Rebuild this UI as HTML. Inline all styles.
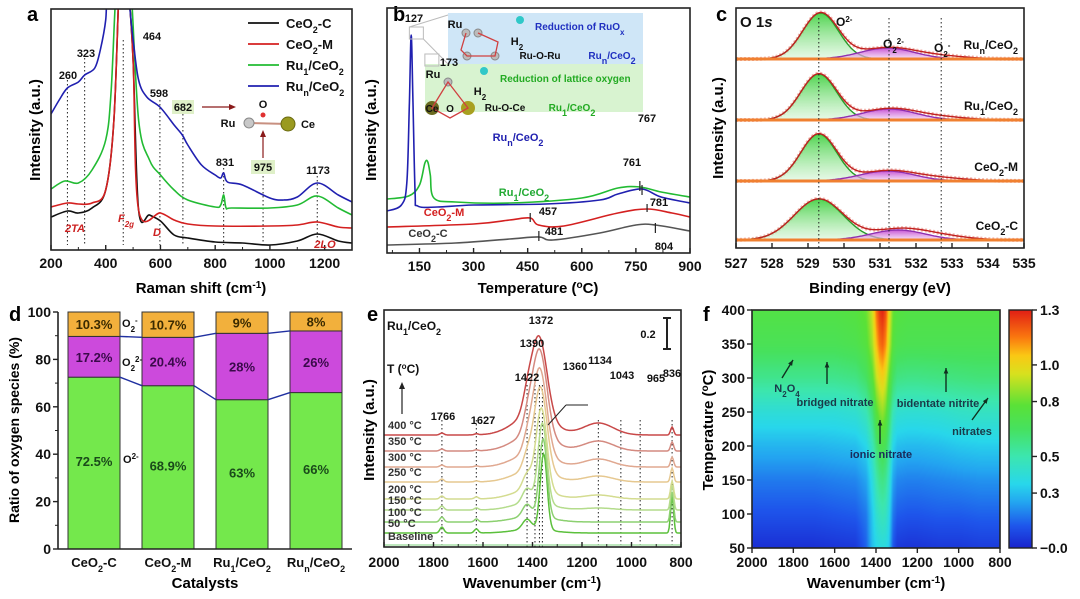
<!DOCTYPE html>
<html><head><meta charset="utf-8"><title>Ru/CeO2 characterization figure</title>
<style>
html,body{margin:0;padding:0;background:#fff;}
#wrap{position:relative;width:1080px;height:599px;overflow:hidden;font-family:"Liberation Sans",Arial,sans-serif;}
svg{position:absolute;left:0;top:0;}
#heat{position:absolute;left:752px;top:310px;}
text{font-family:"Liberation Sans",Arial,sans-serif;font-weight:bold;}
</style></head>
<body>
<div id="wrap">
<canvas id="heat" width="248" height="238"></canvas>
<svg id="fig" width="1080" height="599" viewBox="0 0 1080 599">
<defs>
<clipPath id="clipA"><rect x="51" y="9" width="301" height="241"/></clipPath>
<clipPath id="clipB"><rect x="387" y="8" width="303" height="245"/></clipPath>
<clipPath id="clipC"><rect x="736" y="8" width="288" height="240"/></clipPath>
<clipPath id="clipE"><rect x="384" y="310" width="297" height="237"/></clipPath>
<linearGradient id="gfill" x1="0" y1="0" x2="0" y2="1"><stop offset="0" stop-color="#3ccf3c" stop-opacity="0.9"/><stop offset="1" stop-color="#d8f5d8" stop-opacity="0.6"/></linearGradient>
<linearGradient id="pfill" x1="0" y1="0" x2="0" y2="1"><stop offset="0" stop-color="#c040d0" stop-opacity="0.9"/><stop offset="1" stop-color="#f0c8f0" stop-opacity="0.6"/></linearGradient>
<linearGradient id="cbar" x1="0" y1="1" x2="0" y2="0"></linearGradient>
</defs>

<text x="27" y="21" font-size="20">a</text>
<text x="393" y="21" font-size="20">b</text>
<text x="716" y="21" font-size="20">c</text>
<text x="9" y="321" font-size="20">d</text>
<text x="367" y="321" font-size="20">e</text>
<text x="703" y="321" font-size="20">f</text>

<text transform="translate(40,130) rotate(-90)" text-anchor="middle" font-size="15">Intensity (a.u.)</text>
<text x="201" y="293" text-anchor="middle" font-size="15">Raman shift (cm<tspan dy="-5" font-size="10">-1</tspan><tspan dy="5">)</tspan></text>
<text transform="translate(376,130) rotate(-90)" text-anchor="middle" font-size="15">Intensity (a.u.)</text>
<text x="538" y="293" text-anchor="middle" font-size="15">Temperature (<tspan dy="-5" font-size="10">o</tspan><tspan dy="5">C)</tspan></text>
<text transform="translate(723,128) rotate(-90)" text-anchor="middle" font-size="15">Intensity (a.u.)</text>
<text x="880" y="293" text-anchor="middle" font-size="15">Binding energy (eV)</text>
<text transform="translate(19,430) rotate(-90)" text-anchor="middle" font-size="14">Ratio of oxygen species (%)</text>
<text x="205" y="588" text-anchor="middle" font-size="15">Catalysts</text>
<text transform="translate(374,430) rotate(-90)" text-anchor="middle" font-size="15">Intensity (a.u.)</text>
<text x="532" y="588" text-anchor="middle" font-size="15">Wavenumber (cm<tspan dy="-5" font-size="10">-1</tspan><tspan dy="5">)</tspan></text>
<text transform="translate(713,430) rotate(-90)" text-anchor="middle" font-size="15">Temperature (<tspan dy="-5" font-size="10">o</tspan><tspan dy="5">C)</tspan></text>
<text x="876" y="588" text-anchor="middle" font-size="15">Wavenumber (cm<tspan dy="-5" font-size="10">-1</tspan><tspan dy="5">)</tspan></text>
<text transform="translate(1025,430) rotate(-90)" text-anchor="middle" font-size="13" fill="#8fd6c0" font-weight="normal">Intensity (a.u.)</text>

<g id="gA"></g>
<g id="gB"></g>
<g id="gC"></g>
<g id="gD"></g>
<g id="gE"></g>
<g id="gF"></g>
</svg>
</div>
<script>
const ramanBlackX=[200,260,300,350,400,430,450,464,480,500,520,560,600,650,700,800,900,1000,1100,1173,1250,1300];
const ramanBlackY=[33,39,37,42,60,130,270,290,270,190,40,35,29,15,12,8,7,5,9,16,9,7];
const ramanRedX=[200,260,300,350,400,430,450,464,480,500,520,600,650,700,800,1000,1100,1173,1250,1300];
const ramanRedY=[43,47,46,47,60,130,270,290,270,190,40,37,30,26,24,24,25,28,23,22];
const ramanGreenX=[200,250,300,350,400,420,440,464,490,520,560,600,650,700,800,820,831,840,860,1000,1100,1173,1250,1300];
const ramanGreenY=[61,69,67,80,110,160,270,290,270,130,90,75,60,50,43,45,55,42,42,42,45,54,42,35];
const ramanBlueX=[200,230,260,300,323,360,380,400,410,464,500,520,550,598,650,680,700,750,800,820,831,845,900,1000,1050,1100,1173,1250,1300];
const ramanBlueY=[136,150,162,168,175,182,200,230,270,290,210,170,153,143,125,115,105,85,75,72,77,68,65,52,50,53,67,55,48];
const ramanTicks=[200,400,600,800,1000,1200];
const ramanPeaks=[260,323,464,598,682,831,975,1173];

const tprBlueX=[60,100,115,122,127,132,138,145,200,300,500,650,700,767,820,900];
const tprBlueY=[42,48,70,150,218,150,60,47,46,48,49,53,59,64,56,50];
const tprGreenX=[60,120,150,165,173,180,190,250,400,600,700,761,820,900];
const tprGreenY=[54,57,68,90,91,78,55,51,50,55,65,66,61,56];
const tprRedX=[60,300,400,457,480,550,700,781,850,900];
const tprRedY=[26,29,33,35,28,27,40,44,40,36];
const tprGrayX=[60,250,400,481,520,650,750,804,900];
const tprGrayY=[8,10,14,16,13,20,28,28,22];
const tprTicks=[150,300,450,600,750,900];

const xpsSamples=['Run/CeO2','Ru1/CeO2','CeO2-M','CeO2-C'];
const xpsBase=[187,126,65,6];
const xpsLatticeCenter=[529.35,529.3,529.3,529.3];
const xpsLatticeAmp=[46,46,47,41];
const xpsLatticeWidth=[0.5,0.5,0.5,0.68];
const xpsPeroxCenter=[531.2,531.25,531.2,531.5];
const xpsPeroxAmp=[11,11,10,10];
const xpsSuperAmp=[3,3,3,4];
const xpsTicks=[527,528,529,530,531,532,533,534,535];

const catalysts=['CeO2-C','CeO2-M','Ru1/CeO2','Run/CeO2'];
const ratioO2minus=[72.5,68.9,63,66];
const ratioPeroxide=[17.2,20.4,28,26];
const ratioSuperoxide=[10.3,10.7,9,8];
const ratioTicks=[0,20,40,60,80,100];

const eLabels=['Baseline','50 °C','100 °C','150 °C','200 °C','250 °C','300 °C','350 °C','400 °C'];
const eOffset=[2,14,25,37,48,65,80,96,112];
const eMainCenter=[1360,1355,1357,1360,1364,1368,1371,1372,1374];
const eMainAmp=[0,76,78,80,82,84,86,86,80];
const eMainWidth=[20,14,16,18,22,26,28,30,32];
const eShoulderAmp=[0,10,12,14,15,14,12,12,12];
const eBroadAmp=[0,4,6,8,10,12,14,17,20];
const e1134Amp=[0,0,0,2,4,6,8,10,12];
const e836Amp=[0,36,30,25,18,14,10,9,8];
const e1766Amp=[0,6,5,4,3,3,2,2,2];
const e1627Amp=[0,4,3,2,2,1,1,1,1];
const eTicks=[2000,1800,1600,1400,1200,1000,800];
const ePeaks=[1766,1627,1422,1390,1372,1360,1134,1043,965,836];

const fTemps=[50,100,150,200,250,300,350,400];
const fWaves=[2000,1900,1800,1700,1600,1500,1450,1420,1400,1385,1370,1355,1340,1320,1300,1250,1200,1100,1000,900,800];
const fRow50=[0.03,0.03,0.03,0.03,0.04,0.05,0.14,0.30,0.35,0.37,0.38,0.37,0.33,0.12,0.05,0.04,0.04,0.05,0.05,0.06,0.06];
const fRow100=[0.11,0.11,0.11,0.11,0.12,0.13,0.18,0.32,0.42,0.46,0.48,0.46,0.38,0.18,0.13,0.12,0.12,0.13,0.13,0.14,0.14];
const fRow150=[0.18,0.18,0.18,0.18,0.19,0.20,0.25,0.38,0.50,0.56,0.58,0.55,0.45,0.25,0.20,0.19,0.19,0.20,0.21,0.22,0.22];
const fRow200=[0.28,0.28,0.28,0.28,0.29,0.30,0.35,0.47,0.60,0.67,0.70,0.66,0.55,0.35,0.30,0.29,0.29,0.30,0.32,0.33,0.33];
const fRow250=[0.40,0.40,0.40,0.40,0.40,0.42,0.48,0.60,0.76,0.83,0.86,0.80,0.66,0.48,0.42,0.41,0.41,0.42,0.44,0.45,0.45];
const fRow300=[0.56,0.56,0.56,0.56,0.56,0.58,0.64,0.76,0.92,0.99,1.02,0.95,0.80,0.64,0.58,0.57,0.57,0.58,0.59,0.60,0.60];
const fRow350=[0.68,0.68,0.68,0.68,0.68,0.70,0.75,0.88,1.06,1.16,1.19,1.12,0.95,0.75,0.70,0.69,0.69,0.69,0.69,0.69,0.69];
const fRow400=[0.73,0.73,0.73,0.73,0.73,0.75,0.80,0.94,1.16,1.26,1.29,1.22,1.02,0.80,0.75,0.73,0.73,0.73,0.73,0.73,0.73];
const fYTicks=[50,100,150,200,250,300,350,400];
const fXTicks=[2000,1800,1600,1400,1200,1000,800];
const cbTickVals=[1.3,1.0,0.8,0.5,0.3,0.0];
const cbTickLabels=['1.3','1.0','0.8','0.5','0.3','\u22120.0'];

const NS='http://www.w3.org/2000/svg';
function mk(tag,parent,attrs){const e=document.createElementNS(NS,tag);for(const k in attrs)e.setAttribute(k,attrs[k]);parent.appendChild(e);return e;}
function lin(d0,d1,r0,r1){return v=>r0+(v-d0)/(d1-d0)*(r1-r0);}
function smooth(p){let d='M'+p[0][0].toFixed(1)+','+p[0][1].toFixed(1);for(let i=0;i<p.length-1;i++){const p0=p[i-1]||p[i],p1=p[i],p2=p[i+1],p3=p[i+2]||p2;const c1x=p1[0]+(p2[0]-p0[0])/6,c1y=p1[1]+(p2[1]-p0[1])/6,c2x=p2[0]-(p3[0]-p1[0])/6,c2y=p2[1]-(p3[1]-p1[1])/6;d+='C'+c1x.toFixed(1)+','+c1y.toFixed(1)+' '+c2x.toFixed(1)+','+c2y.toFixed(1)+' '+p2[0].toFixed(1)+','+p2[1].toFixed(1);}return d;}
function poly(p){return 'M'+p.map(q=>q[0].toFixed(1)+','+q[1].toFixed(1)).join('L');}
function gauss(x,c,a,s){return a*Math.exp(-0.5*((x-c)/s)*((x-c)/s));}
function txt(parent,x,y,s,size,fill,anchor){const t=mk('text',parent,{x:x,y:y,'font-size':size,fill:fill||'#111','text-anchor':anchor||'middle'});t.innerHTML=s;return t;}
function frame(parent,x,y,w,h){return mk('rect',parent,{x:x,y:y,width:w,height:h,fill:'none',stroke:'#222','stroke-width':1.6});}
function label(s){
  return s.replace('Ru1','Ru<tspan baseline-shift="sub" font-size="9">1</tspan>').replace('Run','Ru<tspan baseline-shift="sub" font-size="9">n</tspan>').replace(/O2/g,'O<tspan baseline-shift="sub" font-size="9">2</tspan>');
}

(function(){
const g=document.getElementById('gA');
const x=lin(200,1300,51,352), y=v=>250-v;
const cl=mk('g',g,{'clip-path':'url(#clipA)'});
const tops=[80,58,40,100,114,168,176,176];
ramanPeaks.forEach((p,i)=>{const l=mk('line',cl,{x1:x(p),x2:x(p),y1:tops[i],y2:245,stroke:'#222','stroke-width':1,'stroke-dasharray':'1.5,2.5'});

});
const series=[[ramanBlackX,ramanBlackY,'#111','ceo2-c'],[ramanRedX,ramanRedY,'#d42020','ceo2-m'],[ramanGreenX,ramanGreenY,'#22bb33','ru1-ceo2'],[ramanBlueX,ramanBlueY,'#2020b0','run-ceo2']];
series.forEach(s=>{const p=mk('path',cl,{d:smooth(s[0].map((v,i)=>[x(v),y(s[1][i])])),fill:'none',stroke:s[2],'stroke-width':1.6});

});
frame(g,51,9,301,241);
ramanTicks.forEach(t=>{mk('line',g,{x1:x(t),x2:x(t),y1:250,y2:245,stroke:'#222','stroke-width':1.4});
const tl=txt(g,x(t),268,String(t),14);

});
[300,500,700,900,1100].forEach(t=>mk('line',g,{x1:x(t),x2:x(t),y1:250,y2:247,stroke:'#222'}));
[['260',68,79],['323',86,57],['464',152,40],['598',159,97],['831',225,166],['1173',318,174]].forEach(a=>txt(g,a[1],a[2],a[0],11));
mk('rect',g,{x:172,y:100,width:22,height:14,fill:'#dff0c8'});txt(g,183,111,'682',11);
mk('rect',g,{x:251,y:160,width:24,height:14,fill:'#dff0c8'});txt(g,263,171,'975',11);
mk('line',g,{x1:202,y1:107,x2:232,y2:107,stroke:'#8a1a1a','stroke-width':1.2});mk('path',g,{d:'M236,107 L229,104 L229,110Z',fill:'#8a1a1a'});
mk('line',g,{x1:263,y1:158,x2:263,y2:134,stroke:'#8a1a1a','stroke-width':1.2});mk('path',g,{d:'M263,130 L260,137 L266,137Z',fill:'#8a1a1a'});
txt(g,228,127,'Ru',11,'#111','middle');
mk('line',g,{x1:249,y1:123,x2:288,y2:124,stroke:'#c89080','stroke-width':2});
mk('circle',g,{cx:249,cy:123,r:5,fill:'#c8c8c8',stroke:'#888'});
mk('circle',g,{cx:263,cy:115,r:2.5,fill:'#e03030'});
mk('circle',g,{cx:288,cy:124,r:7,fill:'#9a9a20',stroke:'#6a6a10'});
txt(g,263,108,'O',11);txt(g,308,128,'Ce',11);
[['2TA',75,232],['F<tspan baseline-shift="sub" font-size="8">2g</tspan>',126,222],['D',157,236],['2LO',325,248]].forEach(a=>{const t=txt(g,a[1],a[2],a[0],11,'#cc2222');t.setAttribute('font-style','italic');});
const lg=mk('g',g,{});


series.forEach((s,i)=>{const yy=23+i*21;mk('line',lg,{x1:248,x2:279,y1:yy,y2:yy,stroke:s[2],'stroke-width':1.8});
const t=txt(lg,286,yy+5,label(['CeO2-C','CeO2-M','Ru1/CeO2','Run/CeO2'][i]),13,'#111','start');

});
})();

(function(){
const g=document.getElementById('gB');
const x=lin(60,900,387,690), y=v=>253-v;
mk('rect',g,{x:448,y:13,width:195,height:51,fill:'#cfe6f7'});
mk('rect',g,{x:425,y:64,width:218,height:48,fill:'#d8f3d0'});
const cl=mk('g',g,{'clip-path':'url(#clipB)'});
const series=[[tprGrayX,tprGrayY,'#555','ceo2-c'],[tprRedX,tprRedY,'#d42020','ceo2-m'],[tprGreenX,tprGreenY,'#22bb33','ru1-ceo2'],[tprBlueX,tprBlueY,'#2020b0','run-ceo2']];
series.forEach(s=>{const p=mk('path',cl,{d:smooth(s[0].map((v,i)=>[x(v),y(s[1][i])])),fill:'none',stroke:s[2],'stroke-width':1.6});

});
frame(g,387,8,303,245);
tprTicks.forEach(t=>{mk('line',g,{x1:x(t),x2:x(t),y1:253,y2:248,stroke:'#222','stroke-width':1.4});
const tl=txt(g,x(t),271,String(t),14);

});
[75,225,375,525,675,825].forEach(t=>mk('line',g,{x1:x(t),x2:x(t),y1:253,y2:250,stroke:'#222'}));
[[767,'#222',58,68],[761,'#222',62,72],[781,'#222',41,49],[457,'#222',31,40],[481,'#222',12,22],[804,'#222',20,30]].forEach(m=>mk('line',g,{x1:x(m[0]),x2:x(m[0]),y1:y(m[3]),y2:y(m[2]),stroke:m[1],'stroke-width':1.2}));
mk('rect',g,{x:x(122),y:27,width:14,height:12,fill:'none',stroke:'#bbb'});
mk('line',g,{x1:x(122),y1:27,x2:448,y2:15,stroke:'#bbb'});mk('line',g,{x1:x(122)+14,y1:39,x2:448,y2:64,stroke:'#bbb'});
mk('rect',g,{x:x(165),y:54,width:14,height:12,fill:'none',stroke:'#bbb'});
[['127',414,22],['173',449,66],['767',647,122],['761',632,166],['781',659,206],['457',548,215],['481',554,235],['804',664,250]].forEach(a=>txt(g,a[1],a[2],a[0],11));
txt(g,518,141,label('Run/CeO2'),11,'#2020b0');
txt(g,524,196,label('Ru1/CeO2'),11,'#22aa33');
txt(g,444,216,label('CeO2-M'),11,'#d42020');
txt(g,428,237,label('CeO2-C'),11,'#333');
txt(g,455,28,'Ru',11,'#111');
txt(g,535,30,'Reduction of RuO<tspan baseline-shift="sub" font-size="8">x</tspan>',10,'#2030c0','start');
txt(g,517,45,'H<tspan baseline-shift="sub" font-size="8">2</tspan>',11,'#111');
txt(g,540,59,'Ru-O-Ru',10,'#111');txt(g,612,59,label('Run/CeO2'),10,'#2030c0');
[[466,33],[478,33],[467,56],[495,56]].forEach(c=>mk('circle',g,{cx:c[0],cy:c[1],r:4,fill:'#bbb',stroke:'#888'}));
mk('path',g,{d:'M466,33 L461,50 L467,56 L495,56 L498,42 L478,33',fill:'none',stroke:'#d04040','stroke-width':1.3});
mk('circle',g,{cx:520,cy:20,r:4,fill:'#30c8c8'});
txt(g,433,78,'Ru',11,'#111');
txt(g,500,82,'Reduction of lattice oxygen',10,'#22aa22','start');
txt(g,480,95,'H<tspan baseline-shift="sub" font-size="8">2</tspan>',11,'#111');
txt(g,505,111,'Ru-O-Ce',10,'#111');txt(g,572,111,label('Ru1/CeO2'),10,'#22aa22');
mk('circle',g,{cx:432,cy:108,r:7,fill:'#6a6a20'});mk('circle',g,{cx:468,cy:108,r:7,fill:'#a8a020'});
mk('circle',g,{cx:448,cy:82,r:4,fill:'#bbb',stroke:'#888'});
mk('path',g,{d:'M432,108 L440,95 L448,82 L458,95 L468,108 L450,118Z',fill:'none',stroke:'#d04040','stroke-width':1.3});
txt(g,432,112,'Ce',10,'#111');txt(g,450,112,'O',10,'#111');
mk('circle',g,{cx:484,cy:71,r:4,fill:'#30c8c8'});
})();

(function(){
const g=document.getElementById('gC');
const x=lin(527,535,736,1024);
const cl=mk('g',g,{'clip-path':'url(#clipC)'});
const ys=[]; for(let e=527;e<=535.001;e+=0.05)ys.push(e);
xpsSamples.forEach((s,i)=>{
  const base=248-xpsBase[i]-2;
  const yv=v=>base-v;
  const lat=ys.map(e=>gauss(e,xpsLatticeCenter[i],xpsLatticeAmp[i],xpsLatticeWidth[i]));
  const per=ys.map(e=>gauss(e,xpsPeroxCenter[i],xpsPeroxAmp[i],0.75));
  const sup=ys.map(e=>gauss(e,532.6,xpsSuperAmp[i],0.8));
  const env=ys.map((e,k)=>lat[k]+per[k]+sup[k]);
  const pts=env.map((v,k)=>[x(ys[k]),yv(v)]);
  const pd=mk('path',cl,{d:poly(pts),fill:'none',stroke:'#f2b8b0','stroke-width':4,'stroke-dasharray':'2,2'});
  
  
  const gp=mk('path',cl,{d:poly(lat.map((v,k)=>[x(ys[k]),yv(v)]))+'Z',fill:'url(#gfill)',stroke:'#2a9a2a','stroke-width':1.4});
  
  
  const pp=mk('path',cl,{d:poly(per.map((v,k)=>[x(ys[k]),yv(v)]))+'Z',fill:'url(#pfill)',stroke:'#9030b0','stroke-width':1.4});
  
  
  const ep=mk('path',cl,{d:poly(pts),fill:'none',stroke:'#c02020','stroke-width':1.4});
  
  
  const bl=mk('line',cl,{x1:736,x2:1024,y1:base,y2:base,stroke:'#f08030','stroke-width':3});
  
  
  const t=txt(g,1018,base-10,label(s),12,'#111','end');
  
  
});
[529.3,531.25,532.7].forEach(v=>mk('line',g,{x1:x(v),x2:x(v),y1:18,y2:248,stroke:'#222','stroke-width':1,'stroke-dasharray':'1.5,2.5'}));
frame(g,736,8,288,240);
xpsTicks.forEach(t=>{mk('line',g,{x1:x(t),x2:x(t),y1:248,y2:243,stroke:'#222','stroke-width':1.4});
const tl=txt(g,x(t),268,String(t),14);

});
txt(g,740,27,'O 1<tspan font-style="italic">s</tspan>',15,'#111','start');
txt(g,836,26,'O<tspan baseline-shift="super" font-size="8">2-</tspan>',12,'#111','start');
txt(g,883,48,'O<tspan baseline-shift="sub" font-size="8">2</tspan><tspan baseline-shift="super" font-size="8">2-</tspan>',12,'#111','start');
txt(g,934,52,'O<tspan baseline-shift="sub" font-size="8">2</tspan><tspan baseline-shift="super" font-size="8">-</tspan>',12,'#111','start');
})();

(function(){
const g=document.getElementById('gD');
const y=lin(0,100,549,312);
const bw=52, cx=[94,168,242,316];
catalysts.forEach((c,i)=>{
  const a=ratioO2minus[i], b=ratioPeroxide[i], s=ratioSuperoxide[i];
  const r1=mk('rect',g,{x:cx[i]-bw/2,y:y(a),width:bw,height:y(0)-y(a),fill:'#74e84c',stroke:'#333','stroke-width':1});
  
  
  const r2=mk('rect',g,{x:cx[i]-bw/2,y:y(a+b),width:bw,height:y(a)-y(a+b),fill:'#cc4adc',stroke:'#333','stroke-width':1});
  
  
  const r3=mk('rect',g,{x:cx[i]-bw/2,y:y(a+b+s),width:bw,height:y(a+b)-y(a+b+s),fill:'#f2b03c',stroke:'#333','stroke-width':1});
  
  
  txt(g,cx[i],(y(0)+y(a))/2+3,a+'%',13,'#1a4a1a');
  txt(g,cx[i],(y(a)+y(a+b))/2+5,b+'%',13,'#3a0a4a');
  txt(g,cx[i],(y(a+b)+y(100))/2+5,s+'%',13,'#3a2a00');
  const cl=txt(g,cx[i],567,label(c),13,'#111');
  
  
});
for(let i=0;i<3;i++){
  mk('line',g,{x1:cx[i]+bw/2,x2:cx[i+1]-bw/2,y1:y(ratioO2minus[i]),y2:y(ratioO2minus[i+1]),stroke:'#2030a0','stroke-width':1.4});
  mk('line',g,{x1:cx[i]+bw/2,x2:cx[i+1]-bw/2,y1:y(ratioO2minus[i]+ratioPeroxide[i]),y2:y(ratioO2minus[i+1]+ratioPeroxide[i+1]),stroke:'#2030a0','stroke-width':1.4});
}
mk('line',g,{x1:58,x2:58,y1:312,y2:549,stroke:'#222','stroke-width':1.6});
mk('line',g,{x1:58,x2:352,y1:549,y2:549,stroke:'#222','stroke-width':1.6});
ratioTicks.forEach(t=>{mk('line',g,{x1:53,x2:58,y1:y(t),y2:y(t),stroke:'#222','stroke-width':1.4});
const tl=txt(g,51,y(t)+5,String(t),14,'#111','end');

});
[10,30,50,70,90].forEach(t=>mk('line',g,{x1:55,x2:58,y1:y(t),y2:y(t),stroke:'#222'}));
txt(g,122,327,'O<tspan baseline-shift="sub" font-size="8">2</tspan><tspan baseline-shift="super" font-size="8">-</tspan>',11,'#111','start');
txt(g,122,366,'O<tspan baseline-shift="sub" font-size="8">2</tspan><tspan baseline-shift="super" font-size="8">2-</tspan>',11,'#111','start');
txt(g,123,463,'O<tspan baseline-shift="super" font-size="8">2-</tspan>',11,'#111','start');
})();

(function(){
const g=document.getElementById('gE');
const x=lin(2000,800,384,681), y=v=>547-v;
const colors=['#a8e0a8','#5cc03c','#8cd070','#b4dc8c','#d4dc90','#e6c890','#e0a890','#d48a80','#c84848'];
const ws=[];for(let w=2000;w>=800;w-=4)ws.push(w);
ePeaks.forEach(p=>{const l=mk('line',g,{x1:x(p),x2:x(p),y1:p>1300&&p<1450?385:420,y2:547,stroke:'#222','stroke-width':1,'stroke-dasharray':'1.5,2.5'});

});
const cl=mk('g',g,{'clip-path':'url(#clipE)'});
eLabels.forEach((lab,i)=>{
  const pts=ws.map(w=>{const v=eOffset[i]+gauss(w,eMainCenter[i],eMainAmp[i],eMainWidth[i])+gauss(w,1422,eShoulderAmp[i],18)+gauss(w,1400,eBroadAmp[i],75)+gauss(w,1134,e1134Amp[i],60)+gauss(w,836,e836Amp[i],6)+gauss(w,1766,e1766Amp[i],8)+gauss(w,1627,e1627Amp[i],8);return [x(w),y(v)];});
  const p=mk('path',cl,{d:poly(pts),fill:'none',stroke:colors[i],'stroke-width':1.5});
  
  
  const t=txt(g,388,y(eOffset[i])-(i==0?5:6),lab,11,'#333','start');
  
  
});
frame(g,384,310,297,237);
eTicks.forEach(t=>{mk('line',g,{x1:x(t),x2:x(t),y1:547,y2:542,stroke:'#222','stroke-width':1.4});
const tl=txt(g,x(t),567,String(t),14);

});
[1900,1700,1500,1300,1100,900].forEach(t=>mk('line',g,{x1:x(t),x2:x(t),y1:547,y2:544,stroke:'#222'}));
[['1766',443,420],['1627',483,424],['1422',527,381],['1390',532,347],['1372',541,324],['1360',575,370],['1134',600,364],['1043',622,379],['965',656,382],['836',672,377]].forEach(a=>txt(g,a[1],a[2],a[0],11));
mk('line',g,{x1:548,y1:425,x2:566,y2:405,stroke:'#222'});mk('line',g,{x1:566,y1:405,x2:588,y2:405,stroke:'#222'});
txt(g,387,330,label('Ru1/CeO2'),12,'#111','start');
txt(g,387,373,'T (<tspan baseline-shift="super" font-size="8">o</tspan>C)',12,'#111','start');
mk('line',g,{x1:402,x2:402,y1:414,y2:386,stroke:'#222','stroke-width':1.2});mk('path',g,{d:'M402,382 L399,389 L405,389Z',fill:'#222'});
mk('line',g,{x1:667,x2:667,y1:318,y2:349,stroke:'#222','stroke-width':2});
mk('line',g,{x1:663,x2:671,y1:318,y2:318,stroke:'#222','stroke-width':2});mk('line',g,{x1:663,x2:671,y1:349,y2:349,stroke:'#222','stroke-width':2});
txt(g,648,338,'0.2',11);
})();

const fGrid=[fRow50,fRow100,fRow150,fRow200,fRow250,fRow300,fRow350,fRow400];
const cStops=[[0,[25,35,205]],[0.12,[30,85,235]],[0.25,[35,165,240]],[0.35,[40,215,235]],[0.5,[60,230,175]],[0.65,[70,225,95]],[0.78,[90,225,55]],[0.95,[215,225,30]],[1.05,[250,200,20]],[1.15,[250,120,15]],[1.3,[225,30,20]]];
function cmap(v){if(v<=cStops[0][0])return cStops[0][1];for(let i=1;i<cStops.length;i++){if(v<=cStops[i][0]){const a=cStops[i-1],b=cStops[i],t=(v-a[0])/(b[0]-a[0]);return a[1].map((c,k)=>Math.round(c+(b[1][k]-c)*t));}}return cStops[cStops.length-1][1];}
(function(){
const cv=document.getElementById('heat'),ctx=cv.getContext('2d');
const W=248,H=238,img=ctx.createImageData(W,H);
function interp(arr,v){for(let i=0;i<arr.length-1;i++){const a=arr[i],b=arr[i+1];if((v-a)*(v-b)<=0)return [i,(v-a)/(b-a)];}return [arr.length-2,1];}
for(let py=0;py<H;py++){const T=50+(H-py)/H*350;const [ri,rt]=interp(fTemps,T);
 for(let px=0;px<W;px++){const w=2000-px/W*1200;const [ci,ct]=interp(fWaves,w);
  const v00=fGrid[ri][ci],v01=fGrid[ri][ci+1],v10=fGrid[ri+1][ci],v11=fGrid[ri+1][ci+1];
  const v=(v00*(1-ct)+v01*ct)*(1-rt)+(v10*(1-ct)+v11*ct)*rt;const c=cmap(v);const k=(py*W+px)*4;
  img.data[k]=c[0];img.data[k+1]=c[1];img.data[k+2]=c[2];img.data[k+3]=255;}}
ctx.putImageData(img,0,0);
const g=document.getElementById('gF');
const x=lin(2000,800,752,1000), y=lin(50,400,548,310);
frame(g,752,310,248,238);
fYTicks.forEach(t=>{mk('line',g,{x1:747,x2:752,y1:y(t),y2:y(t),stroke:'#222','stroke-width':1.4});
const tl=txt(g,745,y(t)+5,String(t),14,'#111','end');

});
fXTicks.forEach(t=>{mk('line',g,{x1:x(t),x2:x(t),y1:548,y2:553,stroke:'#222','stroke-width':1.4});
const tl=txt(g,x(t),567,String(t),14);

});
const grad=document.getElementById('cbar');
cStops.forEach(s=>{mk('stop',grad,{offset:(s[0]/1.3).toFixed(3),'stop-color':'rgb('+s[1].join(',')+')'});});
const cb=mk('rect',g,{x:1009,y:310,width:23,height:238,fill:'url(#cbar)',stroke:'#222','stroke-width':1.4});


const cy=lin(0,1.3,548,310);
cbTickVals.forEach((v,i)=>{mk('line',g,{x1:1032,x2:1037,y1:cy(v),y2:cy(v),stroke:'#222','stroke-width':1.4});
const tl=txt(g,1040,cy(v)+5,cbTickLabels[i],14,'#111','start');

});
const tc='#1a3a4a';
txt(g,787,392,'N<tspan baseline-shift="sub" font-size="8">2</tspan>O<tspan baseline-shift="sub" font-size="8">4</tspan>',11,tc);
txt(g,835,406,'bridged nitrate',11,tc);
txt(g,938,407,'bidentate nitrite',11,tc);
txt(g,972,435,'nitrates',11,tc);
txt(g,881,458,'ionic nitrate',11,'#1a2a5a');
[[782,378,793,360],[827,384,827,362],[946,392,946,368],[972,420,988,398],[880,444,880,420]].forEach(a=>{mk('line',g,{x1:a[0],y1:a[1],x2:a[2],y2:a[3],stroke:'#103020','stroke-width':1.4});const ang=Math.atan2(a[3]-a[1],a[2]-a[0]);const hx=a[2],hy=a[3];mk('path',g,{d:'M'+hx+','+hy+' L'+(hx-6*Math.cos(ang-0.4))+','+(hy-6*Math.sin(ang-0.4))+' L'+(hx-6*Math.cos(ang+0.4))+','+(hy-6*Math.sin(ang+0.4))+'Z',fill:'#103020'});});
})();
</script>
</body></html>
